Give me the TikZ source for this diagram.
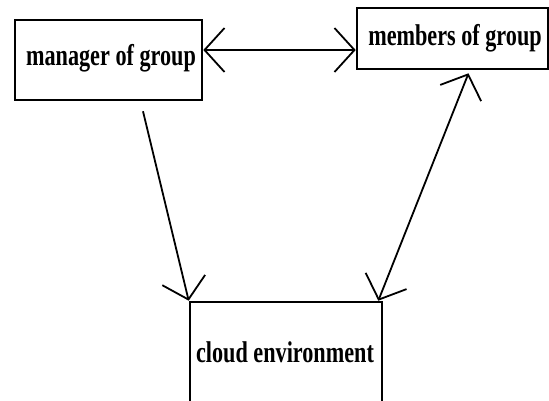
\documentclass[tikz,border=0pt]{standalone}
\usepackage{fontspec}
\setmainfont{Liberation Serif}
\usetikzlibrary{arrows.meta,calc}
\tikzset{
  boxnode/.style={draw=black, line width=2.6pt, rectangle, inner sep=0pt},
  lbl/.style={font=\fontsize{30}{32}\selectfont\bfseries},
  conn/.style={line width=1.8pt, black, -{Straight Barb[length=20pt,width=44pt,line width=1.8pt]}},
  conn2/.style={line width=1.8pt, black, {Straight Barb[length=20pt,width=44pt,line width=1.8pt]}-{Straight Barb[length=20pt,width=44pt,line width=1.8pt]}}
}
\begin{document}
\begin{tikzpicture}[x=1pt,y=-1pt]
\useasboundingbox (0,0) rectangle (549,400);
\begin{scope}
\clip (0,0) rectangle (549,400);
\node[boxnode, minimum width=187pt, minimum height=80pt] (manager) at (108.5,60) {};
\node[lbl] (mtext) at (111,58) {\scalebox{0.74}[1]{manager of group}};
\node[boxnode, minimum width=191pt, minimum height=61pt] (members) at (452.5,38.5) {};
\node[lbl] (btext) at (455,38) {\scalebox{0.74}[1]{members of group}};
\node[boxnode, minimum width=192pt, minimum height=118pt] (cloud) at (286,361) {};
\node[lbl] (ctext) at (285,352) {\scalebox{0.74}[1]{cloud environment}};
\end{scope}
\draw[conn2] ([yshift=10pt]manager.east) -- ([yshift=-11.5pt]members.west);
\draw[conn] ($(manager.south)+(34.5,10)$) -- (cloud.north west);
\draw[conn2] ($(members.south)+(16,3)$) -- ($(cloud.north east)+(-5,0)$);
\end{tikzpicture}
\end{document}
